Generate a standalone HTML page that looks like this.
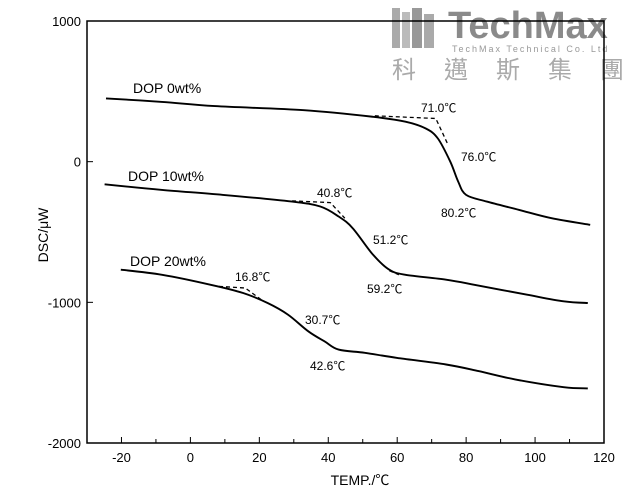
<!DOCTYPE html>
<html><head><meta charset="utf-8"><style>
body{margin:0;background:#fff;}
svg{display:block;font-family:"Liberation Sans","Noto Sans CJK TC",sans-serif;}
</style></head><body>
<svg id="chart" width="633" height="498" viewBox="0 0 633 498">
<g fill="#9a9a9a">
<rect x="392" y="8" width="8" height="40" fill="#aaa"/><rect x="402" y="12" width="8" height="36" fill="#bbb"/><rect x="412" y="8" width="10" height="40" fill="#999"/><rect x="424" y="14" width="10" height="34" fill="#aaa"/>
<text x="448" y="38" font-size="38" font-weight="bold" fill="#8a8a8a">TechMax</text>
<text x="452" y="52" font-size="9" letter-spacing="2" fill="#999">TechMax Technical Co. Ltd</text>
<text x="392" y="78" font-size="24" fill="#aaa" font-family="'Noto Sans CJK TC',sans-serif" letter-spacing="28">科邁斯集團</text>
</g>
<rect x="87" y="21" width="517" height="422" fill="none" stroke="#000" stroke-width="1.5"/>
<g id="axes"></g>
<g id="series"></g>
<g font-size="14" fill="#000">
<text x="133" y="93">DOP 0wt%</text>
<text x="128" y="181">DOP 10wt%</text>
<text x="130" y="266">DOP 20wt%</text>
</g>
<g font-size="12" fill="#000">
<text x="421" y="112">71.0℃</text><text x="461" y="161">76.0℃</text><text x="441" y="217">80.2℃</text>
<text x="317" y="197">40.8℃</text><text x="373" y="244">51.2℃</text><text x="367" y="293">59.2℃</text>
<text x="235" y="281">16.8℃</text><text x="305" y="324">30.7℃</text><text x="310" y="370">42.6℃</text>
</g>
<text x="360" y="485" font-size="14" text-anchor="middle">TEMP./℃</text>
<text transform="translate(48,235) rotate(-90)" font-size="14" text-anchor="middle">DSC/μW</text>
</svg>
<script>
const xTicks=[-20,0,20,40,60,80,100,120];
const yTicks=[1000,0,-1000,-2000];
const t0=[-24.5,-8.2,7.1,33,53,62.4,68.3,71.8,75.4,77.7,80,86,95.4,104.8,116];
const v0=[450,425,395,366,319,284,236,165,0,-142,-236,-284,-343,-402,-449];
const t10=[-24.9,-8.2,9.5,29.5,37.7,43,47.1,53,57.7,62.4,74.2,82.4,97.7,108.3,115.3];
const v10=[-161,-201,-236,-284,-319,-390,-473,-662,-768,-804,-839,-875,-946,-993,-1005];
const t20=[-20.2,-8.2,5.9,15.3,22.4,28.3,34.2,38.9,43,50.6,60,74.2,83.6,94.2,108.3,115.3];
const v20=[-768,-804,-875,-934,-1005,-1087,-1206,-1277,-1336,-1359,-1395,-1442,-1489,-1548,-1603,-1612];
const d0t=[53.5,71.2,74.8], d0v=[326,307,118];
const d10t=[29.5,40.6,44.8], d10v=[-279,-291,-402];
const d10bt=[57.7,60.5], d10bv=[-775,-804];
const d20t=[8.3,15.9,21.2], d20v=[-887,-898,-993];
const X=t=>87+(t+30)*517/150, Y=v=>443-(v+2000)*422/3000;
const NS='http://www.w3.org/2000/svg';
const ax=document.getElementById('axes'), se=document.getElementById('series');
function mk(tag,attrs,parent){const e=document.createElementNS(NS,tag);for(const k in attrs)e.setAttribute(k,attrs[k]);parent.appendChild(e);return e;}
for(let t=-30;t<=120;t+=10){const l=mk('line',{x1:X(t),x2:X(t),y1:443,y2:t%20===0?437:439,stroke:'#000','stroke-width':1},ax);

}
xTicks.forEach(t=>{const e=mk('text',{x:X(t),y:462,'font-size':13,'text-anchor':'middle'},ax);e.textContent=t;

});
yTicks.forEach(v=>{const l=mk('line',{x1:87,x2:93,y1:Y(v),y2:Y(v),stroke:'#000'},ax);


const e=mk('text',{x:81,y:Y(v)+5,'font-size':13,'text-anchor':'end'},ax);e.textContent=v;

});
function smooth(pts){let d='M'+pts[0][0].toFixed(1)+','+pts[0][1].toFixed(1);
for(let i=0;i<pts.length-1;i++){const p0=pts[Math.max(0,i-1)],p1=pts[i],p2=pts[i+1],p3=pts[Math.min(pts.length-1,i+2)];
const c1=[p1[0]+(p2[0]-p0[0])/6,p1[1]+(p2[1]-p0[1])/6],c2=[p2[0]-(p3[0]-p1[0])/6,p2[1]-(p3[1]-p1[1])/6];
d+='C'+c1.map(n=>n.toFixed(1))+' '+c2.map(n=>n.toFixed(1))+' '+p2[0].toFixed(1)+','+p2[1].toFixed(1);}return d;}
function path(ts,vs,dash,name){const pts=ts.map((t,i)=>[X(t),Y(vs[i])]);
const d=dash?pts.map((p,i)=>(i?'L':'M')+p[0].toFixed(1)+','+p[1].toFixed(1)).join(''):smooth(pts);
const p=mk('path',{d:d,fill:'none',stroke:'#000','stroke-width':dash?1.3:1.9,'stroke-linejoin':'round'},se);
if(dash)p.setAttribute('stroke-dasharray','4,3');

}
path(t0,v0,false,'curve-dop-0');path(t10,v10,false,'curve-dop-10');path(t20,v20,false,'curve-dop-20');
path(d0t,d0v,true,'tangent-dop-0');path(d10t,d10v,true,'tangent-dop-10');path(d10bt,d10bv,true,'tangent-dop-10-end');path(d20t,d20v,true,'tangent-dop-20');
</script>
</body></html>
